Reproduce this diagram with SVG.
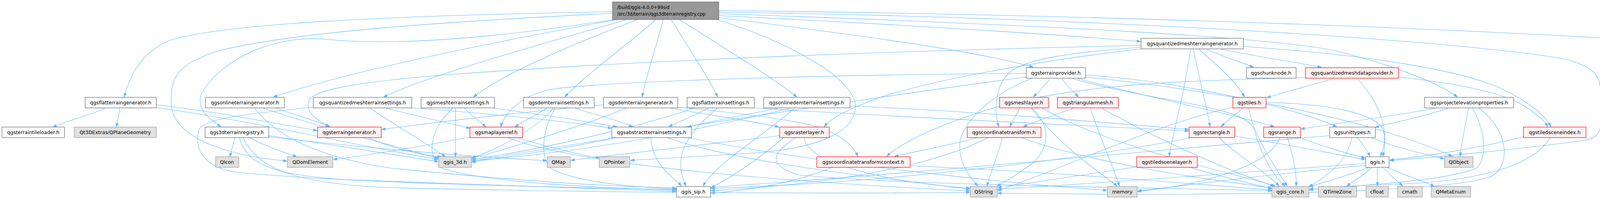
<svg xmlns="http://www.w3.org/2000/svg" width="4338" height="509" viewBox="0 0 4338 509">
<style>
.e{fill:none;stroke:#63b8ff;stroke-width:1.1;marker-end:url(#ah)}
.n rect{stroke-width:1.2}
.w{fill:#ffffff;stroke:#666666}
.g{fill:#e0e0e0;stroke:#999999}
.r{fill:#fff0f0;stroke:#ff0000}
.t{fill:#999999;stroke:#666666}
text{font-family:"DejaVu Sans","Liberation Sans",sans-serif;font-size:12.5px;fill:#000000}
.c{text-anchor:middle}
.s{font-size:11.5px}
</style>
<defs>
<marker id="ah" viewBox="0 0 10 7" refX="10" refY="3.5" markerWidth="10" markerHeight="7" markerUnits="userSpaceOnUse" orient="auto">
<path d="M0,0 L10,3.5 L0,7 z" fill="#63b8ff" stroke="#63b8ff"/>
</marker>
</defs>
<rect x="0" y="0" width="4338" height="509" fill="#ffffff"/>
<g id="edges">
<path class="e" d="M1568,30 C1000,40 560,60 430,105 C360,135 330,200 318,248"/>
<path class="e" d="M1568,34 C1150,55 760,80 560,130 C450,165 438,200 438,260 C438,360 600,400 735,412"/>
<path class="e" d="M1572,50 C1250,100 1000,118 830,100 C700,90 570,150 518,235 C498,275 535,305 566,324"/>
<path class="e" d="M1582,50 C1300,100 900,180 700,248"/>
<path class="e" d="M1605,50 C1450,95 1100,190 982,248"/>
<path class="e" d="M1632,50 C1500,100 1300,180 1212,248"/>
<path class="e" d="M1679,50 C1600,120 1500,190 1446,248"/>
<path class="e" d="M1698,50 C1680,120 1655,190 1644,248"/>
<path class="e" d="M1718,50 C1760,120 1810,190 1837,248"/>
<path class="e" d="M1739,50 C1850,120 1980,200 2040,248"/>
<path class="e" d="M1835,50 C2000,100 2200,200 2190,280 C2180,340 2100,375 1950,390 C1800,400 1700,405 1614,410"/>
<path class="e" d="M1840,27 C2600,35 3500,62 4133,99"/>
<path class="e" d="M1840,31 C2800,45 3700,100 4000,150 C4085,170 4097,195 4097,235 L4097,320 C4097,345 4080,355 4050,360 C3900,380 3700,400 3558,411"/>
<path class="e" d="M1840,35 C2700,65 3250,95 3420,130 C3560,165 3680,210 3731,248"/>
<path class="e" d="M1840,40 C2300,62 2700,88 2920,106"/>
<path class="e" d="M1840,45 C2200,90 2500,130 2645,172"/>
<path class="e" d="M2921,116 C2400,128 1700,150 1160,190 C950,206 810,226 792,255 C778,285 810,307 842,324"/>
<path class="e" d="M2921,121 C2750,133 2625,150 2585,185 C2545,220 2545,290 2557,324"/>
<path class="e" d="M2921,125 C2700,150 2400,200 2250,250 C2170,280 2130,300 2110,324"/>
<path class="e" d="M3089,126 C3130,145 3180,160 3209,172"/>
<path class="e" d="M3126,126 C3220,145 3320,160 3383,172"/>
<path class="e" d="M3069,126 C3120,170 3165,210 3186,248"/>
<path class="e" d="M3055,126 C3070,200 3090,280 3098,324"/>
<path class="e" d="M3048,126 C3030,250 3000,350 2993,400"/>
<path class="e" d="M3183,119 C3500,140 3750,180 3850,230 C3930,270 3958,300 3970,324"/>
<path class="e" d="M2627,188 C2200,190 1600,205 1420,227 C1335,240 1292,290 1282,324"/>
<path class="e" d="M2627,197 C2300,240 1700,330 1208,412"/>
<path class="e" d="M2641,201 C2560,230 2470,300 2458,360 C2450,410 2480,450 2503,476"/>
<path class="e" d="M2688,201 C2675,220 2658,235 2645,248"/>
<path class="e" d="M2718,201 C2732,220 2748,235 2761,248"/>
<path class="e" d="M2760,201 C2900,240 3150,290 3262,324"/>
<path class="e" d="M2779,192 C3000,205 3300,270 3422,324"/>
<path class="e" d="M2745,201 C2950,260 3190,270 3210,330 C3230,400 3260,450 3290,476"/>
<path class="e" d="M2779,197 C3100,230 3500,300 3718,400"/>
<path class="e" d="M3413,201 C3350,220 3290,235 3243,250"/>
<path class="e" d="M3580,197 C3750,215 3850,240 3900,270 C3940,295 3955,310 3962,324"/>
<path class="e" d="M3475,201 C3520,250 3560,320 3540,400"/>
<path class="e" d="M3342,199 C3000,205 2700,220 2500,290 C2350,340 2290,380 2270,400"/>
<path class="e" d="M2610,277 C2602,295 2592,310 2585,324"/>
<path class="e" d="M2642,277 C2690,320 2690,380 2640,420 C2600,450 2570,465 2552,477"/>
<path class="e" d="M2668,277 C2850,380 3150,440 3265,476"/>
<path class="e" d="M2640,277 C2720,380 2815,440 2860,476"/>
<path class="e" d="M2747,277 C2700,295 2650,310 2620,324"/>
<path class="e" d="M2791,277 C2820,360 2850,430 2866,476"/>
<path class="e" d="M2821,277 C2950,350 3150,440 3262,476"/>
<path class="e" d="M2504,352 C2430,372 2330,390 2290,400"/>
<path class="e" d="M2566,352 C2555,400 2535,440 2527,476"/>
<path class="e" d="M2529,352 C2400,420 2150,470 1820,488"/>
<path class="e" d="M2614,352 C2800,420 3100,460 3256,481"/>
<path class="e" d="M2330,424 C2700,440 3050,470 3256,486"/>
<path class="e" d="M2132,428 C2050,460 1950,485 1820,494"/>
<path class="e" d="M3181,277 C3160,295 3140,310 3126,324"/>
<path class="e" d="M3197,277 C3210,350 3260,420 3295,476"/>
<path class="e" d="M3241,262 C3400,265 3520,290 3540,330 C3550,360 3540,385 3534,400"/>
<path class="e" d="M3156,274 C2950,320 2700,440 2554,488"/>
<path class="e" d="M3121,352 C3170,400 3240,440 3275,476"/>
<path class="e" d="M3161,348 C3300,370 3420,395 3495,408"/>
<path class="e" d="M3050,352 C2700,420 2200,470 1820,482"/>
<path class="e" d="M3296,352 C3310,400 3320,440 3318,476"/>
<path class="e" d="M3328,352 C3400,380 3460,395 3495,404"/>
<path class="e" d="M3277,352 C3250,420 3100,470 2912,490"/>
<path class="e" d="M3475,352 C3490,370 3500,385 3507,400"/>
<path class="e" d="M3461,352 C3450,410 3400,450 3350,478"/>
<path class="e" d="M3511,352 C3580,380 3650,395 3697,406"/>
<path class="e" d="M3404,347 C3000,380 2400,440 1820,479"/>
<path class="e" d="M3505,428 C3450,450 3390,465 3352,478"/>
<path class="e" d="M3512,428 C3490,450 3460,465 3448,477"/>
<path class="e" d="M3526,428 L3526,476"/>
<path class="e" d="M3540,428 C3560,450 3580,465 3591,476"/>
<path class="e" d="M3550,428 C3600,450 3650,465 3672,477"/>
<path class="e" d="M3496,418 C3200,440 2800,470 2554,484"/>
<path class="e" d="M3496,423 C3200,450 3000,480 2912,488"/>
<path class="e" d="M3900,350 C3780,380 3650,400 3558,409"/>
<path class="e" d="M3968,352 C3930,420 3800,460 3600,470 C3450,476 3380,478 3352,484"/>
<path class="e" d="M3674,277 C3550,300 3420,315 3330,330"/>
<path class="e" d="M3706,277 C3640,300 3560,315 3520,326"/>
<path class="e" d="M3759,277 C3752,320 3742,360 3738,400"/>
<path class="e" d="M3770,277 C3800,330 3810,400 3780,430 C3700,465 3450,475 3352,486"/>
<path class="e" d="M3786,277 C3860,330 3870,420 3820,450 C3700,500 3000,500 2554,494"/>
<path class="e" d="M3046,428 C3120,450 3200,470 3256,482"/>
<path class="e" d="M2910,427 C2750,450 2620,470 2554,480"/>
<path class="e" d="M1545,268 C1300,290 1100,315 977,331"/>
<path class="e" d="M1717,277 C1820,295 1930,310 1994,325"/>
<path class="e" d="M1602,277 C1500,320 1300,380 1208,405"/>
<path class="e" d="M1735,274 C1900,290 2060,310 2110,330 C2160,350 2185,375 2196,400"/>
<path class="e" d="M1813,277 C1780,295 1740,310 1712,324"/>
<path class="e" d="M1776,277 C1650,320 1400,380 1208,408"/>
<path class="e" d="M1836,277 C1760,340 1720,400 1756,476"/>
<path class="e" d="M1931,276 C2300,300 2800,322 3043,335"/>
<path class="e" d="M1992,277 C1900,295 1820,310 1760,325"/>
<path class="e" d="M2034,277 C1950,350 1830,420 1800,476"/>
<path class="e" d="M2022,277 C1800,330 1500,390 1208,411"/>
<path class="e" d="M2176,271 C2500,285 2850,315 3043,331"/>
<path class="e" d="M1666,352 C1670,420 1720,450 1745,476"/>
<path class="e" d="M1577,352 C1450,380 1300,400 1208,415"/>
<path class="e" d="M1708,352 C1900,420 2300,460 2483,484"/>
<path class="e" d="M1760,352 C2100,420 2600,470 2834,487"/>
<path class="e" d="M943,352 C1000,378 1080,398 1130,401"/>
<path class="e" d="M1205,350 C1050,380 920,400 853,408"/>
<path class="e" d="M1324,352 C1400,375 1480,395 1535,404"/>
<path class="e" d="M1300,352 C1500,430 2100,470 2483,488"/>
<path class="e" d="M601,352 C597,370 592,385 589,401"/>
<path class="e" d="M640,352 C680,375 730,390 760,401"/>
<path class="e" d="M688,347 C850,370 1000,395 1122,413"/>
<path class="e" d="M688,350 C950,380 1200,400 1400,411"/>
<path class="e" d="M613,352 C630,420 700,450 900,460 C1300,475 1600,485 1731,490"/>
<path class="e" d="M622,352 C660,430 750,470 1000,480 C1600,495 2200,495 2483,492"/>
<path class="e" d="M268,277 C230,295 170,310 135,325"/>
<path class="e" d="M307,277 C304,295 301,310 298,325"/>
<path class="e" d="M400,268 C550,285 700,315 812,334"/>
<path class="e" d="M400,275 C650,310 900,370 1122,408"/>
<path class="e" d="M707,277 C760,295 810,310 845,324"/>
<path class="e" d="M675,277 C800,320 1000,370 1122,405"/>
<path class="e" d="M652,277 C700,340 800,400 1000,430 C1400,470 1600,478 1731,481"/>
<path class="e" d="M948,277 C1010,320 1100,370 1140,401"/>
<path class="e" d="M989,277 C1060,295 1150,315 1203,328"/>
<path class="e" d="M1054,276 C1250,290 1450,310 1566,328"/>
<path class="e" d="M802,274 C650,290 530,300 510,330 C495,380 520,425 600,440 C900,470 1500,480 1731,485"/>
<path class="e" d="M1166,277 L1166,401"/>
<path class="e" d="M1189,277 C1205,295 1228,310 1244,325"/>
<path class="e" d="M1159,277 C1100,330 1090,400 1130,430 C1250,470 1550,480 1731,487"/>
<path class="e" d="M1266,277 C1400,295 1500,310 1580,325"/>
<path class="e" d="M1400,277 C1370,295 1340,310 1318,325"/>
<path class="e" d="M1416,277 C1370,330 1280,380 1207,404"/>
<path class="e" d="M1473,277 C1530,295 1590,310 1620,325"/>
<path class="e" d="M1421,277 C1390,330 1380,400 1410,430 C1480,470 1650,480 1731,483"/>
<path class="e" d="M1996,347 C1800,370 1600,395 1461,410"/>
<path class="e" d="M2006,352 C1950,400 1880,450 1820,480"/>
<path class="e" d="M2059,352 C2060,420 2300,470 2483,481"/>
<path class="e" d="M2036,352 C1980,390 1960,420 2043,447 C2300,475 3000,480 3256,488"/>
</g>
<g id="node-top" class="n"><rect class="t" x="1568" y="5" width="272" height="45"/><text class="s" x="1580" y="23">/build/qgis-4.0.0+99sid</text><text class="s" x="1580" y="40">/src/3d/terrain/qgs3dterrainregistry.cpp</text></g>
<g id="node-qmtg" class="n"><rect class="w" x="2921" y="98" width="262" height="27"/><text class="c" x="3052" y="116">qgsquantizedmeshterraingenerator.h</text></g>
<g id="node-mtg" class="n"><rect class="g" x="4134" y="98" width="198" height="27"/><text class="c" x="4233" y="116">qgsmeshterraingenerator.h</text></g>
<g id="node-tp" class="n"><rect class="w" x="2627" y="173" width="152" height="27"/><text class="c" x="2703" y="191">qgsterrainprovider.h</text></g>
<g id="node-chunk" class="n"><rect class="w" x="3191" y="173" width="127" height="27"/><text class="c" x="3254" y="191">qgschunknode.h</text></g>
<g id="node-qmdp" class="n"><rect class="r" x="3342" y="173" width="238" height="27"/><text class="c" x="3461" y="191">qgsquantizedmeshdataprovider.h</text></g>
<g id="node-ftg" class="n"><rect class="w" x="218" y="249" width="182" height="27"/><text class="c" x="309" y="267">qgsflatterraingenerator.h</text></g>
<g id="node-otg" class="n"><rect class="w" x="526" y="249" width="202" height="27"/><text class="c" x="627" y="267">qgsonlineterraingenerator.h</text></g>
<g id="node-qmts" class="n"><rect class="w" x="802" y="249" width="252" height="27"/><text class="c" x="928" y="267">qgsquantizedmeshterrainsettings.h</text></g>
<g id="node-mts" class="n"><rect class="w" x="1078" y="249" width="188" height="27"/><text class="c" x="1172" y="267">qgsmeshterrainsettings.h</text></g>
<g id="node-dts" class="n"><rect class="w" x="1340" y="249" width="181" height="27"/><text class="c" x="1430" y="267">qgsdemterrainsettings.h</text></g>
<g id="node-dtg" class="n"><rect class="w" x="1545" y="249" width="190" height="27"/><text class="c" x="1640" y="267">qgsdemterraingenerator.h</text></g>
<g id="node-fts" class="n"><rect class="w" x="1759" y="249" width="172" height="27"/><text class="c" x="1845" y="267">qgsflatterrainsettings.h</text></g>
<g id="node-odts" class="n"><rect class="w" x="1955" y="249" width="221" height="27"/><text class="c" x="2065" y="267">qgsonlinedemterrainsettings.h</text></g>
<g id="node-ml" class="n"><rect class="r" x="2559" y="249" width="125" height="27"/><text class="c" x="2621" y="267">qgsmeshlayer.h</text></g>
<g id="node-tm" class="n"><rect class="r" x="2707" y="249" width="156" height="27"/><text class="c" x="2785" y="267">qgstriangularmesh.h</text></g>
<g id="node-tiles" class="n"><rect class="r" x="3156" y="249" width="85" height="27"/><text class="c" x="3198" y="267">qgstiles.h</text></g>
<g id="node-pep" class="n"><rect class="w" x="3647" y="249" width="228" height="27"/><text class="c" x="3761" y="267">qgsprojectelevationproperties.h</text></g>
<g id="node-ttl" class="n"><rect class="w" x="5" y="325" width="160" height="27"/><text class="c" x="85" y="343">qgsterraintileloader.h</text></g>
<g id="node-qpg" class="n"><rect class="g" x="190" y="325" width="210" height="27"/><text class="c" x="295" y="343">Qt3DExtras/QPlaneGeometry</text></g>
<g id="node-reg" class="n"><rect class="w" x="525" y="325" width="163" height="27"/><text class="c" x="606" y="343">qgs3dterrainregistry.h</text></g>
<g id="node-tg" class="n"><rect class="r" x="813" y="325" width="163" height="27"/><text class="c" x="894" y="343">qgsterraingenerator.h</text></g>
<g id="node-mlr" class="n"><rect class="r" x="1203" y="325" width="135" height="27"/><text class="c" x="1270" y="343">qgsmaplayerref.h</text></g>
<g id="node-ats" class="n"><rect class="w" x="1566" y="325" width="204" height="27"/><text class="c" x="1668" y="343">qgsabstractterrainsettings.h</text></g>
<g id="node-rl" class="n"><rect class="r" x="1996" y="325" width="127" height="27"/><text class="c" x="2059" y="343">qgsrasterlayer.h</text></g>
<g id="node-ct" class="n"><rect class="r" x="2476" y="325" width="189" height="27"/><text class="c" x="2570" y="343">qgscoordinatetransform.h</text></g>
<g id="node-rect" class="n"><rect class="r" x="3044" y="325" width="117" height="27"/><text class="c" x="3102" y="343">qgsrectangle.h</text></g>
<g id="node-range" class="n"><rect class="r" x="3235" y="325" width="94" height="27"/><text class="c" x="3282" y="343">qgsrange.h</text></g>
<g id="node-ut" class="n"><rect class="w" x="3404" y="325" width="117" height="27"/><text class="c" x="3462" y="343">qgsunittypes.h</text></g>
<g id="node-tsi" class="n"><rect class="r" x="3900" y="325" width="160" height="27"/><text class="c" x="3980" y="343">qgstiledsceneindex.h</text></g>
<g id="node-qicon" class="n"><rect class="g" x="552" y="401" width="59" height="27"/><text class="c" x="581" y="419">QIcon</text></g>
<g id="node-qdom" class="n"><rect class="g" x="736" y="401" width="116" height="27"/><text class="c" x="794" y="419">QDomElement</text></g>
<g id="node-q3d" class="n"><rect class="g" x="1123" y="401" width="84" height="27"/><text class="c" x="1165" y="419">qgis_3d.h</text></g>
<g id="node-qmap" class="n"><rect class="g" x="1401" y="401" width="59" height="27"/><text class="c" x="1430" y="419">QMap</text></g>
<g id="node-qptr" class="n"><rect class="g" x="1534" y="401" width="78" height="27"/><text class="c" x="1573" y="419">QPointer</text></g>
<g id="node-ctc" class="n"><rect class="r" x="2091" y="401" width="239" height="27"/><text class="c" x="2210" y="419">qgscoordinatetransformcontext.h</text></g>
<g id="node-tsl" class="n"><rect class="r" x="2910" y="401" width="155" height="27"/><text class="c" x="2987" y="419">qgstiledscenelayer.h</text></g>
<g id="node-qgis" class="n"><rect class="w" x="3496" y="401" width="60" height="27"/><text class="c" x="3526" y="419">qgis.h</text></g>
<g id="node-qobj" class="n"><rect class="g" x="3698" y="401" width="73" height="27"/><text class="c" x="3734" y="419">QObject</text></g>
<g id="node-sip" class="n"><rect class="w" x="1732" y="477" width="87" height="27"/><text class="c" x="1775" y="495">qgis_sip.h</text></g>
<g id="node-qstr" class="n"><rect class="g" x="2484" y="477" width="69" height="27"/><text class="c" x="2518" y="495">QString</text></g>
<g id="node-mem" class="n"><rect class="g" x="2835" y="477" width="76" height="27"/><text class="c" x="2873" y="495">memory</text></g>
<g id="node-core" class="n"><rect class="g" x="3256" y="477" width="95" height="27"/><text class="c" x="3303" y="495">qgis_core.h</text></g>
<g id="node-qtz" class="n"><rect class="g" x="3375" y="477" width="98" height="27"/><text class="c" x="3424" y="495">QTimeZone</text></g>
<g id="node-cfloat" class="n"><rect class="g" x="3497" y="477" width="57" height="27"/><text class="c" x="3525" y="495">cfloat</text></g>
<g id="node-cmath" class="n"><rect class="g" x="3578" y="477" width="63" height="27"/><text class="c" x="3609" y="495">cmath</text></g>
<g id="node-qme" class="n"><rect class="g" x="3664" y="477" width="101" height="27"/><text class="c" x="3714" y="495">QMetaEnum</text></g>
</svg>
